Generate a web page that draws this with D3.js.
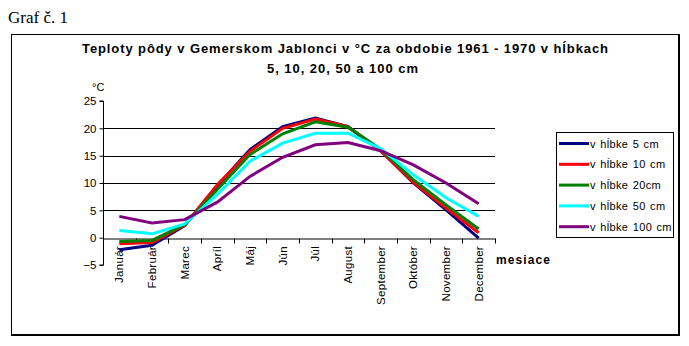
<!DOCTYPE html>
<html><head><meta charset="utf-8">
<script src="https://cdn.jsdelivr.net/npm/d3@7"></script>
<style>body{margin:0;background:#fff;}svg{display:block;}</style>
</head><body>
<svg id="c" width="689" height="346"></svg>
<script>
const months = ["Január","Február","Marec","Apríl","Máj","Jún","Júl","August","September","Október","November","December"];
const seriesNames = ["v hĺbke 5 cm","v hĺbke 10 cm","v hĺbke 20cm","v hĺbke 50 cm","v hĺbke 100 cm"];
const d5   = [-2.2,-1.4,2.2,9.5,16.1,20.3,21.9,20.3,15.9,10.0,5.1,-0.1];
const d10  = [-1.1,-0.9,2.3,9.7,15.8,20.0,21.7,20.3,15.9,10.1,5.4,0.9];
const d20  = [-0.7,-0.5,2.4,8.8,15.2,19.0,21.2,20.2,16.2,10.6,6.0,1.6];
const d50  = [1.3,0.7,2.5,7.9,14.0,17.3,19.1,19.1,16.3,11.5,7.3,3.9];
const d100 = [3.9,2.7,3.3,6.5,11.2,14.7,17.0,17.4,15.9,13.3,10.0,6.2];
const yTicks = [-5,0,5,10,15,20,25];
const colors = ["#000080","#ff0000","#008000","#00ffff","#800080"];
const series = [d5,d10,d20,d50,d100];

const svg = d3.select("#c");
svg.append("text").attr("x",8).attr("y",23).attr("font-family","Liberation Serif, Times New Roman, serif").attr("font-size",17).text("Graf č. 1");
svg.append("rect").attr("x",11.5).attr("y",34.5).attr("width",667).attr("height",300).attr("fill","none").attr("stroke","#000").attr("stroke-width",1);
svg.append("line").attr("x1",11).attr("x2",680).attr("y1",335.5).attr("y2",335.5).attr("stroke","#000");
svg.append("line").attr("x1",679.5).attr("x2",679.5).attr("y1",34).attr("y2",336).attr("stroke","#000");

const ff = "Liberation Sans, Arial, sans-serif";
svg.append("text").attr("x",82).attr("y",53).attr("font-family",ff).attr("font-weight","bold").attr("font-size",13)
  .attr("textLength",526).attr("lengthAdjust","spacing").text("Teploty pôdy v Gemerskom Jablonci v °C za obdobie 1961 - 1970 v hĺbkach");
svg.append("text").attr("x",267).attr("y",73).attr("font-family",ff).attr("font-weight","bold").attr("font-size",13)
  .attr("textLength",151).attr("lengthAdjust","spacing").text("5, 10, 20, 50 a 100 cm");

const x = d3.scaleBand().domain(months).range([103,495]);
const y = d3.scaleLinear().domain([-5,25]).range([265,101]);

// gridlines
svg.append("g").selectAll("line").data(yTicks.filter(t=>t>0 && t<25)).join("line")
  .attr("x1",103).attr("x2",495).attr("y1",d=>Math.round(y(d))+0.5).attr("y2",d=>Math.round(y(d))+0.5).attr("stroke","#000");

// y axis
const ya = svg.append("g").attr("transform","translate(103.5,0)").call(d3.axisLeft(y).tickValues(yTicks).tickSize(4).tickPadding(3).tickFormat(d3.format("d")));
ya.select(".domain").attr("d",`M-4,${y(25)}H0V${y(-5)}H-4`).attr("stroke","#000");
ya.selectAll("text").attr("font-family",ff).attr("font-size",11.5).attr("fill","#000");
ya.selectAll(".tick line").attr("stroke","#000");

svg.append("text").attr("x",92).attr("y",91).attr("font-family",ff).attr("font-size",11).text("°C");

// x axis at 0
const xa = svg.append("g").attr("transform",`translate(0,${Math.round(y(0))+0.5})`).call(d3.axisBottom(x).tickSize(0).tickFormat(""));
xa.select(".domain").attr("stroke","#000");
const bounds = months.map((m,i)=>103+i*x.step()).concat([495]);
xa.append("g").selectAll("line").data(bounds).join("line").attr("x1",d=>Math.round(d)+0.5).attr("x2",d=>Math.round(d)+0.5).attr("y1",0).attr("y2",5).attr("stroke","#000");
svg.append("g").selectAll("text").data(months).join("text")
  .attr("transform",d=>`translate(${x(d)+x.bandwidth()/2+4},${Math.round(y(0))+8}) rotate(-90)`)
  .attr("text-anchor","end").attr("font-family",ff).attr("font-size",11.5).attr("letter-spacing",0.3).text(d=>d);

svg.append("text").attr("x",496).attr("y",264).attr("font-family",ff).attr("font-weight","bold").attr("font-size",12)
  .attr("textLength",54).attr("lengthAdjust","spacing").text("mesiace");

// lines
const line = d3.line().x((d,i)=>x(months[i])+x.bandwidth()/2).y(d=>y(d));
svg.append("g").selectAll("path").data(series).join("path")
  .attr("d",line).attr("fill","none").attr("stroke",(d,i)=>colors[i]).attr("stroke-width",3).attr("stroke-linejoin","miter");

// legend
svg.append("rect").attr("x",556.5).attr("y",132.5).attr("width",117).attr("height",105).attr("fill","#fff").attr("stroke","#000");
const lg = svg.append("g").selectAll("g").data(seriesNames).join("g").attr("transform",(d,i)=>`translate(0,${143.5+i*20.8})`);
lg.append("line").attr("x1",559).attr("x2",589).attr("stroke",(d,i)=>colors[i]).attr("stroke-width",3);
lg.append("text").attr("x",590).attr("y",4).attr("font-family",ff).attr("font-size",11).attr("letter-spacing",0.35).attr("word-spacing",1).text(d=>d);
</script>
</body></html>
